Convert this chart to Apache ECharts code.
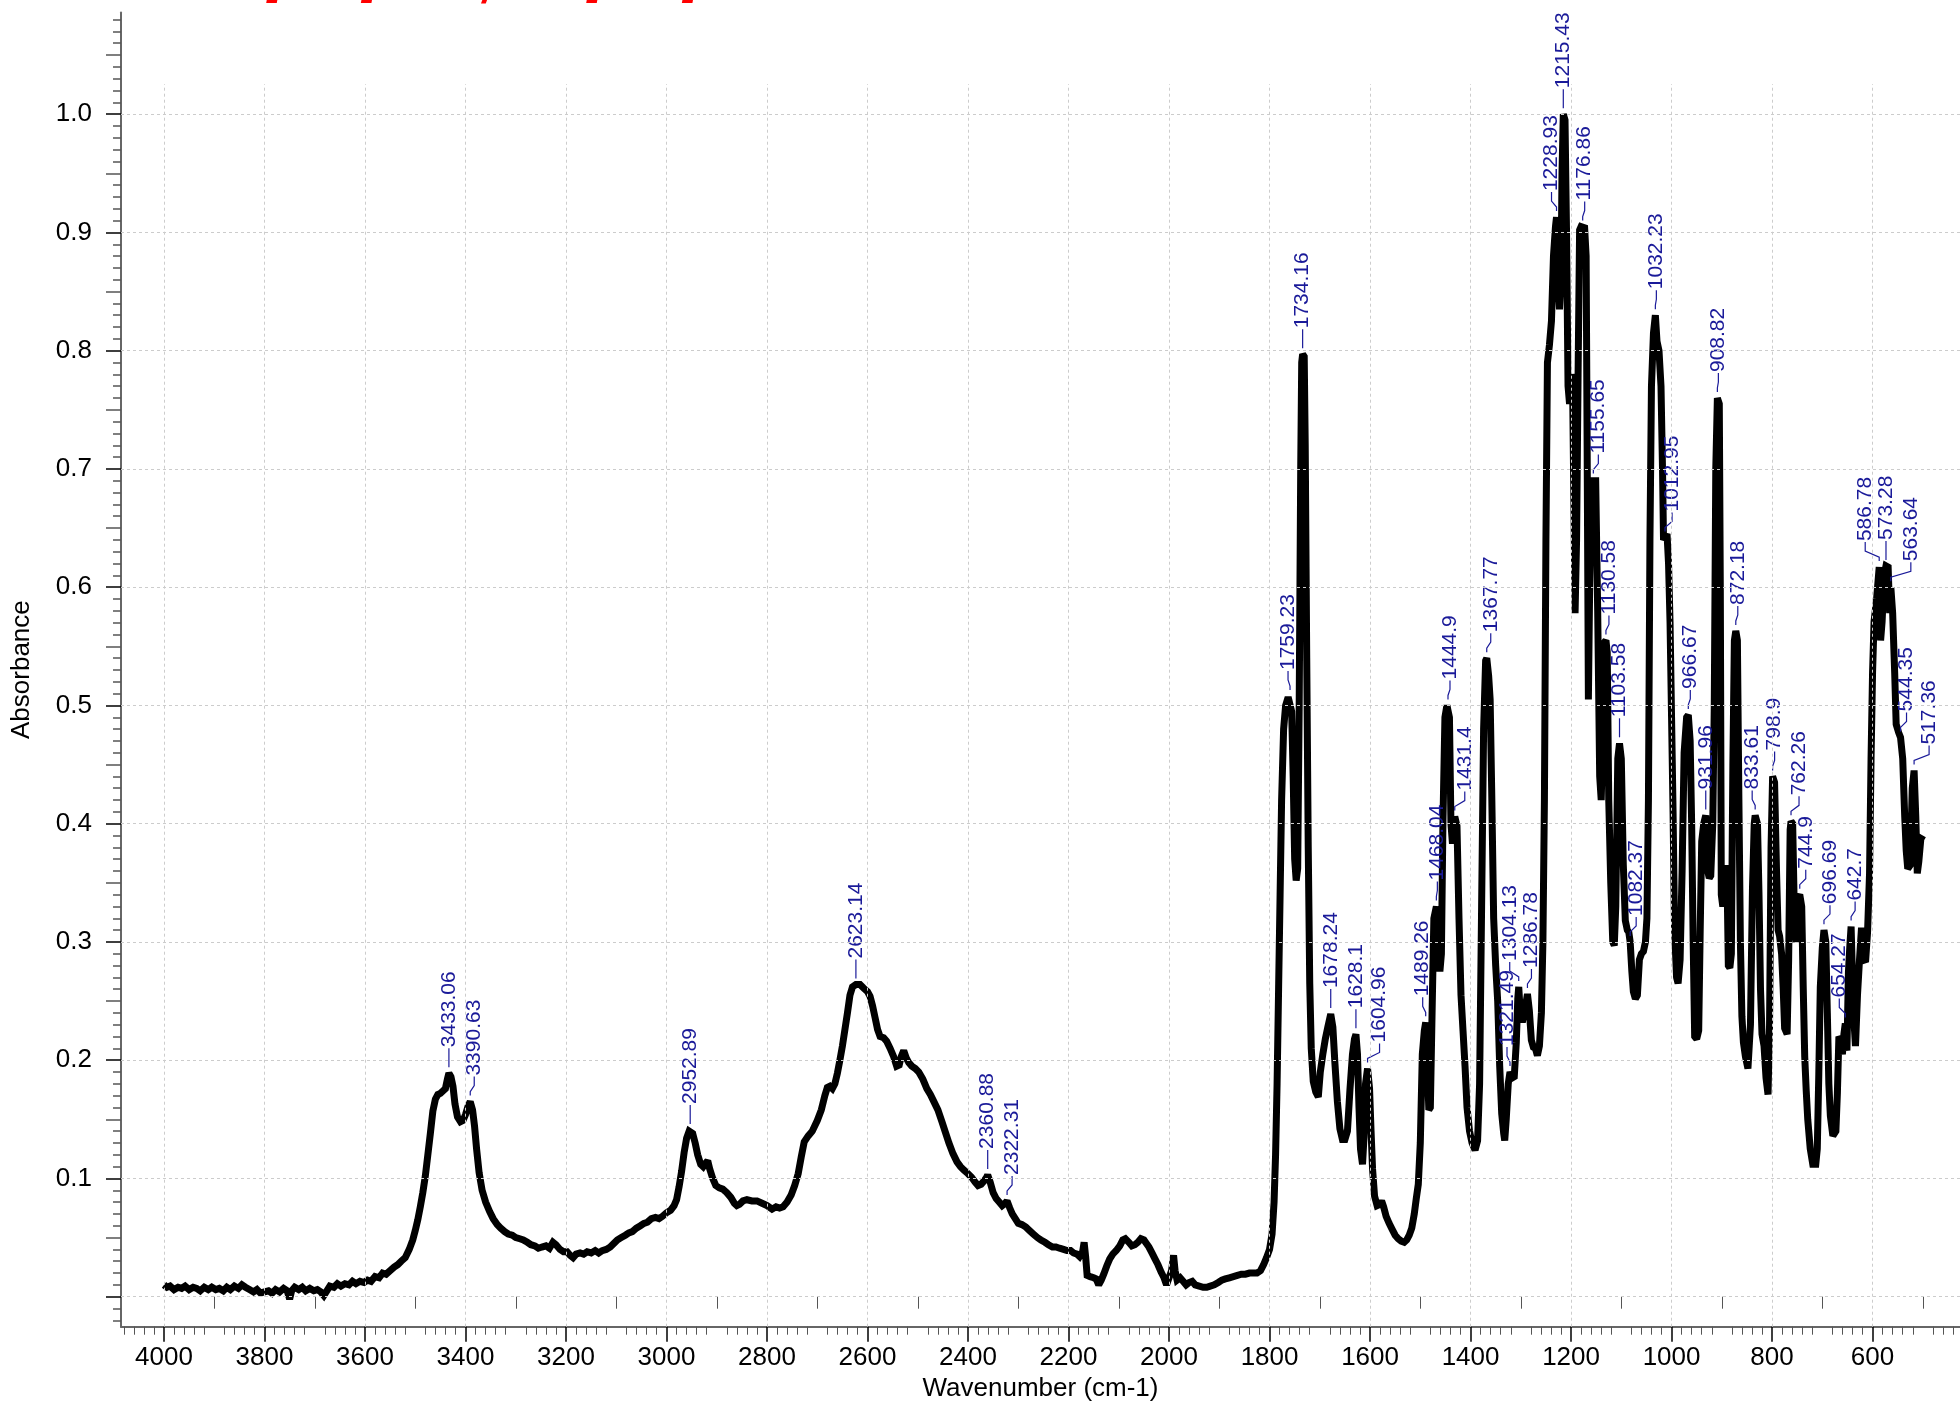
<!DOCTYPE html>
<html>
<head>
<meta charset="utf-8">
<script src="https://cdn.jsdelivr.net/npm/echarts@6/dist/echarts.min.js"></script>
<style>
html,body{margin:0;padding:0;background:#ffffff;}
#chart{width:1960px;height:1403px;}
</style>
</head>
<body>
<div id="chart"></div>
<script>
// ---------------- DATA ----------------
// FTIR spectrum: [wavenumber (cm-1), absorbance]
const spectrum = [
[4000,0.010],[3994,0.008],[3988,0.009],[3980,0.006],[3972,0.008],[3965,0.007],[3958,0.009],[3950,0.006],[3942,0.008],[3935,0.007],
[3928,0.005],[3920,0.008],[3912,0.006],[3905,0.008],[3897,0.006],[3890,0.007],[3882,0.005],[3875,0.008],[3868,0.006],[3860,0.009],
[3852,0.007],[3845,0.010],[3838,0.008],[3830,0.006],[3822,0.004],[3815,0.006],[3808,0.003],[3800,0.004],[3792,0.005],[3785,0.003],
[3778,0.006],[3770,0.004],[3762,0.007],[3755,0.005],[3750,-0.002],[3746,0.005],[3740,0.008],[3732,0.006],[3725,0.008],[3718,0.005],
[3710,0.007],[3702,0.005],[3695,0.006],[3688,0.004],[3682,0.001],[3676,0.005],[3670,0.009],[3662,0.008],[3655,0.011],[3648,0.009],
[3640,0.011],[3632,0.010],[3625,0.013],[3618,0.011],[3610,0.013],[3602,0.012],[3595,0.014],[3588,0.013],[3580,0.017],[3572,0.016],
[3565,0.020],[3558,0.019],[3550,0.022],[3542,0.025],[3535,0.027],[3528,0.030],[3520,0.033],[3512,0.040],[3505,0.048],[3500,0.056],
[3495,0.065],[3490,0.076],[3485,0.088],[3480,0.102],[3475,0.120],[3470,0.138],[3465,0.157],[3460,0.167],[3455,0.171],[3450,0.172],
[3445,0.174],[3440,0.176],[3436,0.184],[3433.06,0.189],[3429,0.186],[3425,0.178],[3421,0.163],[3416,0.152],[3410,0.148],[3405,0.149],
[3400,0.154],[3395,0.161],[3390.63,0.165],[3386,0.158],[3382,0.144],[3378,0.125],[3373,0.105],[3367,0.090],[3360,0.080],[3352,0.072],
[3345,0.066],[3337,0.061],[3330,0.058],[3322,0.055],[3315,0.053],[3307,0.052],[3300,0.050],[3292,0.049],[3285,0.048],[3277,0.046],
[3270,0.044],[3262,0.043],[3255,0.041],[3248,0.042],[3240,0.043],[3233,0.041],[3226,0.046],[3220,0.044],[3212,0.040],[3205,0.038],
[3198,0.038],[3192,0.035],[3186,0.033],[3180,0.036],[3172,0.037],[3165,0.036],[3158,0.038],[3150,0.037],[3142,0.039],[3135,0.037],
[3128,0.039],[3120,0.040],[3112,0.042],[3105,0.045],[3098,0.048],[3090,0.050],[3082,0.052],[3075,0.054],[3068,0.055],[3060,0.058],
[3052,0.060],[3045,0.062],[3038,0.063],[3030,0.066],[3022,0.067],[3015,0.066],[3008,0.068],[3000,0.071],[2992,0.073],[2985,0.077],
[2980,0.082],[2975,0.093],[2970,0.106],[2965,0.122],[2960,0.134],[2955,0.140],[2952.89,0.141],[2948,0.138],[2943,0.130],[2938,0.120],
[2932,0.112],[2927,0.110],[2922,0.113],[2918,0.115],[2914,0.108],[2908,0.100],[2902,0.094],[2895,0.092],[2888,0.091],[2880,0.088],
[2872,0.084],[2865,0.079],[2860,0.077],[2855,0.078],[2848,0.081],[2840,0.082],[2830,0.081],[2820,0.081],[2810,0.079],[2800,0.077],
[2790,0.074],[2782,0.076],[2775,0.075],[2768,0.076],[2760,0.080],[2752,0.086],[2745,0.094],[2738,0.104],[2732,0.118],[2726,0.131],
[2718,0.136],[2710,0.140],[2700,0.149],[2692,0.158],[2685,0.170],[2680,0.177],[2675,0.178],[2670,0.176],[2665,0.180],[2660,0.189],
[2655,0.200],[2650,0.212],[2645,0.226],[2640,0.240],[2635,0.255],[2630,0.262],[2623.14,0.264],[2615,0.264],[2608,0.261],[2600,0.258],
[2595,0.254],[2590,0.246],[2585,0.236],[2580,0.226],[2575,0.220],[2568,0.219],[2562,0.216],[2555,0.210],[2548,0.203],[2542,0.195],
[2537,0.196],[2533,0.203],[2528,0.208],[2523,0.202],[2518,0.198],[2512,0.195],[2505,0.193],[2498,0.190],[2490,0.184],[2482,0.176],
[2475,0.171],[2468,0.165],[2460,0.158],[2452,0.148],[2445,0.139],[2438,0.130],[2430,0.121],[2422,0.114],[2415,0.110],[2408,0.107],
[2400,0.104],[2393,0.101],[2386,0.097],[2380,0.094],[2374,0.095],[2368,0.098],[2363,0.101],[2360.88,0.103],[2356,0.097],[2350,0.088],
[2344,0.083],[2338,0.080],[2332,0.077],[2326,0.079],[2322.31,0.081],[2317,0.075],[2312,0.070],[2306,0.066],[2300,0.062],[2293,0.061],
[2285,0.059],[2278,0.056],[2270,0.053],[2262,0.050],[2255,0.048],[2247,0.046],[2240,0.044],[2232,0.042],[2225,0.042],[2218,0.041],
[2210,0.040],[2203,0.039],[2196,0.039],[2190,0.037],[2183,0.036],[2178,0.034],[2172,0.038],[2169,0.046],[2166,0.034],[2163,0.018],
[2157,0.017],[2150,0.016],[2145,0.015],[2140,0.010],[2135,0.014],[2130,0.019],[2124,0.026],[2118,0.032],[2112,0.036],[2105,0.039],
[2098,0.043],[2092,0.048],[2087,0.049],[2080,0.046],[2074,0.043],[2068,0.044],[2062,0.046],[2056,0.049],[2050,0.048],[2045,0.045],
[2040,0.042],[2034,0.037],[2028,0.032],[2022,0.027],[2016,0.021],[2010,0.016],[2005,0.010],[2000,0.016],[1995,0.022],[1991,0.035],
[1988,0.022],[1984,0.014],[1978,0.016],[1972,0.013],[1966,0.010],[1960,0.012],[1954,0.013],[1948,0.010],[1940,0.009],[1932,0.008],
[1925,0.008],[1918,0.009],[1910,0.010],[1902,0.012],[1895,0.014],[1888,0.015],[1880,0.016],[1872,0.017],[1864,0.018],[1856,0.019],
[1848,0.019],[1840,0.020],[1832,0.020],[1825,0.020],[1818,0.022],[1812,0.027],[1806,0.033],[1800,0.040],[1795,0.053],[1791,0.080],
[1788,0.120],[1785,0.180],[1782,0.260],[1779,0.340],[1776,0.420],[1772,0.480],[1768,0.500],[1763,0.507],[1759.23,0.508],[1756,0.495],
[1753,0.440],[1750,0.370],[1747,0.352],[1744,0.362],[1741,0.500],[1738,0.700],[1736,0.790],[1734.16,0.797],[1731,0.795],[1729,0.720],
[1726,0.540],[1723,0.380],[1720,0.265],[1717,0.210],[1713,0.182],[1708,0.173],[1703,0.169],[1699,0.190],[1694,0.205],[1689,0.218],
[1684,0.228],[1678.24,0.239],[1674,0.228],[1670,0.198],[1665,0.165],[1660,0.142],[1655,0.133],[1650,0.133],[1645,0.140],[1640,0.175],
[1635,0.205],[1631,0.218],[1628.1,0.222],[1625,0.205],[1622,0.160],[1619,0.125],[1615,0.112],[1612,0.135],[1609,0.180],[1604.96,0.193],
[1601,0.176],[1598,0.140],[1595,0.108],[1591,0.085],[1586,0.077],[1581,0.078],[1577,0.081],[1573,0.076],[1568,0.068],[1562,0.062],
[1556,0.057],[1550,0.052],[1544,0.049],[1538,0.047],[1532,0.046],[1527,0.048],[1522,0.052],[1517,0.058],[1512,0.070],[1508,0.083],
[1504,0.095],[1500,0.130],[1496,0.205],[1492,0.225],[1489.26,0.232],[1486,0.195],[1483,0.158],[1480,0.160],[1477,0.230],[1473,0.320],
[1468.04,0.330],[1465,0.305],[1461,0.275],[1458,0.290],[1455,0.400],[1451,0.490],[1447,0.500],[1444.9,0.500],[1442,0.490],[1439,0.400],
[1436,0.383],[1431.4,0.406],[1427,0.398],[1423,0.320],[1419,0.255],[1415,0.225],[1411,0.195],[1407,0.160],[1402,0.140],[1397,0.130],
[1391,0.124],[1386,0.132],[1382,0.180],[1378,0.330],[1374,0.480],[1370,0.538],[1367.77,0.540],[1364,0.525],[1361,0.505],[1358,0.430],
[1354,0.320],[1350,0.280],[1346,0.250],[1342,0.195],[1338,0.155],[1334,0.138],[1332,0.132],[1329,0.150],[1325,0.180],[1321.49,0.190],
[1317,0.185],[1313,0.186],[1309,0.215],[1306,0.252],[1304.13,0.262],[1301,0.240],[1297,0.232],[1293,0.240],[1289,0.250],[1286.78,0.256],
[1283,0.242],[1279,0.217],[1275,0.211],[1271,0.210],[1267,0.204],[1263,0.212],[1259,0.240],[1256,0.300],[1253,0.420],[1250,0.640],
[1247,0.790],[1243,0.805],[1239,0.825],[1235,0.880],[1231,0.905],[1228.93,0.913],[1226,0.860],[1223,0.835],[1220,0.860],[1218,0.950],
[1215.43,1.000],[1212,0.995],[1209,0.900],[1206,0.770],[1203,0.755],[1200,0.780],[1197,0.772],[1194,0.660],[1192,0.578],[1189,0.640],
[1186,0.780],[1183,0.902],[1180,0.905],[1176.86,0.905],[1173,0.904],[1170,0.880],[1168,0.720],[1165.5,0.505],[1163,0.600],[1160,0.680],
[1157,0.690],[1155.65,0.691],[1151,0.690],[1147,0.580],[1143,0.440],[1140,0.420],[1137,0.470],[1134,0.553],[1130.58,0.555],[1128,0.545],
[1125,0.420],[1121,0.350],[1117,0.300],[1114,0.297],[1111,0.330],[1107,0.455],[1103.58,0.468],[1100,0.455],[1096,0.365],[1092,0.318],
[1088,0.310],[1085,0.308],[1082.37,0.300],[1079,0.275],[1076,0.258],[1072,0.252],[1068,0.255],[1064,0.285],[1060,0.290],[1056,0.292],
[1052,0.300],[1049,0.320],[1046,0.420],[1043,0.640],[1040,0.770],[1036,0.815],[1032.23,0.830],[1029,0.808],[1025,0.800],[1021,0.770],
[1018,0.700],[1016,0.640],[1012.95,0.642],[1009,0.645],[1006,0.620],[1003,0.570],[1000,0.490],[997,0.410],[994,0.310],[990,0.270],
[987,0.265],[983,0.285],[979,0.360],[975,0.460],[970,0.490],[966.67,0.492],[963,0.470],[960,0.400],[957,0.300],[954,0.220],
[950,0.218],[946,0.225],[943,0.310],[940,0.385],[936,0.400],[931.96,0.407],[928,0.360],[925,0.354],[922,0.356],[918,0.400],
[915,0.500],[912,0.700],[908.82,0.760],[905,0.755],[903,0.600],[901,0.340],[898,0.330],[894,0.345],[890,0.365],[887,0.280],
[884,0.278],[881,0.290],[878,0.450],[875,0.555],[872.18,0.563],[869,0.555],[866,0.420],[863,0.300],[860,0.237],[857,0.215],
[853,0.203],[848,0.193],[843,0.230],[839,0.345],[835.5,0.400],[833.61,0.407],[829,0.400],[826,0.340],[823,0.260],[820,0.222],
[816,0.212],[812,0.185],[808,0.171],[805,0.230],[802,0.380],[798.9,0.440],[795,0.435],[791,0.358],[788,0.310],[785,0.305],
[781,0.290],[778,0.262],[775,0.227],[770,0.222],[767,0.285],[764,0.395],[762.26,0.402],[759,0.400],[755,0.310],[752,0.300],
[748,0.338],[744.9,0.340],[741,0.330],[738,0.262],[735,0.203],[732,0.174],[729,0.150],[724,0.125],[719,0.112],[713,0.112],
[710,0.125],[707,0.188],[704,0.262],[700,0.295],[696.69,0.310],[693,0.300],[690,0.240],[687,0.180],[684,0.153],[679,0.136],
[673,0.140],[670,0.172],[667,0.220],[664,0.218],[660,0.205],[657,0.222],[654.27,0.231],[651,0.208],[648,0.275],[645,0.298],
[642.7,0.313],[638,0.240],[634,0.212],[630,0.255],[626,0.285],[622,0.312],[618,0.285],[614,0.283],[610,0.308],[606,0.358],
[603,0.455],[600,0.528],[597,0.571],[592,0.590],[586.78,0.617],[584,0.555],[581,0.571],[577,0.610],[573.28,0.618],[569,0.617],
[566,0.578],[563.64,0.600],[560,0.578],[556,0.528],[553,0.484],[548,0.477],[544.35,0.473],[540,0.455],[536,0.406],[533,0.377],
[530,0.362],[525,0.365],[521,0.430],[517.36,0.445],[514,0.406],[511,0.358],[508,0.368],[504,0.387],[500,0.390]
];

// Labelled peak positions (cm-1)
const peakWavenumbers = [
3433.06,3390.63,2952.89,2623.14,2360.88,2322.31,1759.23,1734.16,1678.24,1628.1,1604.96,1489.26,1468.04,1444.9,1431.4,
1367.77,1321.49,1304.13,1286.78,1228.93,1215.43,1176.86,1155.65,1130.58,1103.58,1082.37,1032.23,1012.95,966.67,931.96,
908.82,872.18,833.61,798.9,762.26,744.9,696.69,654.27,642.7,586.78,573.28,563.64,544.35,517.36
];

// Axis tick labels
const xTickLabels = [4000,3800,3600,3400,3200,3000,2800,2600,2400,2200,2000,1800,1600,1400,1200,1000,800,600];
const yTickLabels = [0.1,0.2,0.3,0.4,0.5,0.6,0.7,0.8,0.9,1.0];
const xAxisTitle = 'Wavenumber (cm-1)';
const yAxisTitle = 'Absorbance';

// ---------------- LAYOUT / STYLE ----------------
const FONT = "'Liberation Sans', Arial, Helvetica, sans-serif";
const BLUE = '#1a1a99';
const GRID_COLOR = '#cccccc';
// horizontal label nudges (px) for crowded peak labels, same order as peakWavenumbers
const labelNudge = [0,4,0,0,0,5,-2,0,0,0,12,-3,1,2,10,4,-3,-9,4,-5,0,2,5,3,0,6,1,7,2,0,1,2,-3,2,8,6,6,-6,4,-14,0,20,6,15];

const X_MIN = 426, X_MAX = 4085.6;
const Y_MIN = -0.02537, Y0_MAX = 1.02554, Y1_MAX = 1.0860;
const GRID_LEFT = 121, GRID_BOTTOM = 76.3;

// tick value helpers (decoration only)
const yMajorTicks = [0].concat(yTickLabels);
const x100Ticks = [], x20Ticks = [], y05Ticks = [], y01Ticks = [];
for (let v = 400; v <= 4100; v += 100) if (v % 200 !== 0) x100Ticks.push(v);
for (let v = 420; v <= 4100; v += 20) if (v % 100 !== 0) x20Ticks.push(v);
for (let i = -2; i <= 108; i++) { if (i % 10 === 0) continue; if (i % 5 === 0) y05Ticks.push(i / 100); else y01Ticks.push(i / 100); }

const peakData = peakWavenumbers.map(w => {
  const p = spectrum.find(d => d[0] === w);
  return [w, p ? p[1] : 0];
});

const chart = echarts.init(document.getElementById('chart'), null, {renderer: 'canvas'});

function hiddenTickAxis(grid, vals, len) {
  return {
    gridIndex: grid, type: 'value', min: X_MIN, max: X_MAX, inverse: true, position: 'bottom',
    axisLine: {show: false}, axisLabel: {show: false}, splitLine: {show: false},
    axisTick: {show: true, customValues: vals, length: len, lineStyle: {color: '#555', width: 1}}
  };
}
function yTickAxis(vals, len, color) {
  return {
    gridIndex: 1, type: 'value', min: Y_MIN, max: Y1_MAX, position: 'left',
    axisLine: {show: false}, axisLabel: {show: false}, splitLine: {show: false},
    axisTick: {show: true, customValues: vals, length: len, lineStyle: {color: color, width: 1.5}}
  };
}

const option = {
  animation: false,
  backgroundColor: '#ffffff',
  grid: [
    {left: GRID_LEFT, right: 0, top: 84, bottom: GRID_BOTTOM, outerBoundsMode: 'none', containLabel: false},
    {left: GRID_LEFT, right: 0, top: 12.5, bottom: GRID_BOTTOM, outerBoundsMode: 'none', containLabel: false}
  ],
  xAxis: [
    {
      gridIndex: 0, type: 'value', min: X_MIN, max: X_MAX, inverse: true, position: 'bottom',
      axisLine: {show: true, onZero: false, lineStyle: {color: '#666', width: 2}},
      axisTick: {show: true, customValues: xTickLabels, length: 15, lineStyle: {color: '#000', width: 1.5}},
      axisLabel: {show: true, customValues: xTickLabels, fontSize: 26, fontFamily: FONT, color: '#000', margin: 18,
                  formatter: v => String(v)},
      splitLine: {show: false},
      name: xAxisTitle, nameLocation: 'middle', nameGap: 47,
      nameTextStyle: {fontSize: 26, fontFamily: FONT, color: '#000'}
    },
    hiddenTickAxis(0, x100Ticks, 12),
    hiddenTickAxis(0, x20Ticks, 8),
    {gridIndex: 1, type: 'value', min: X_MIN, max: X_MAX, inverse: true, show: false}
  ],
  yAxis: [
    {gridIndex: 0, type: 'value', min: Y_MIN, max: Y0_MAX, show: false},
    {
      gridIndex: 1, type: 'value', min: Y_MIN, max: Y1_MAX, position: 'left',
      axisLine: {show: true, onZero: false, lineStyle: {color: '#666', width: 2}},
      axisTick: {show: true, customValues: yMajorTicks, length: 15, lineStyle: {color: '#000', width: 1.5}},
      axisLabel: {show: true, customValues: yTickLabels, fontSize: 26, fontFamily: FONT, color: '#000', margin: 29,
                  formatter: v => Number(v).toFixed(1)},
      splitLine: {show: false},
      name: yAxisTitle, nameLocation: 'middle', nameGap: 86, nameRotate: 90,
      nameTextStyle: {fontSize: 26, fontFamily: FONT, color: '#000'}
    },
    yTickAxis(y05Ticks, 15, '#555'),
    yTickAxis(y01Ticks, 8, '#555')
  ],
  graphic: [
    {type: 'text', x: 274, y: -16, silent: true, style: {text: '[', font: 'italic bold 40px ' + FONT, fill: '#ff0000', align: 'center', verticalAlign: 'middle'}},
    {type: 'text', x: 371, y: -16, silent: true, style: {text: ']', font: 'italic bold 40px ' + FONT, fill: '#ff0000', align: 'center', verticalAlign: 'middle'}},
    {type: 'text', x: 488, y: -8, silent: true, style: {text: '/', font: 'italic bold 40px ' + FONT, fill: '#ff0000', align: 'center', verticalAlign: 'middle'}},
    {type: 'text', x: 594, y: -16, silent: true, style: {text: '[', font: 'italic bold 40px ' + FONT, fill: '#ff0000', align: 'center', verticalAlign: 'middle'}},
    {type: 'text', x: 692, y: -16, silent: true, style: {text: ']', font: 'italic bold 40px ' + FONT, fill: '#ff0000', align: 'center', verticalAlign: 'middle'}}
  ],
  series: [
    {
      // grid lines drawn through the axis scales
      type: 'line', name: 'grid', xAxisIndex: 0, yAxisIndex: 0, data: [], silent: true, z: 1,
      markLine: {
        silent: true, symbol: 'none', animation: false, label: {show: false},
        lineStyle: {color: GRID_COLOR, width: 1, type: [3, 3]},
        emphasis: {disabled: true},
        data: xTickLabels.map(v => ({xAxis: v})).concat(yMajorTicks.map(v => ({yAxis: v})))
      }
    },
    {
      type: 'line', name: 'Absorbance', xAxisIndex: 0, yAxisIndex: 0,
      data: spectrum, showSymbol: false, symbol: 'none', smooth: false, z: 3,
      lineStyle: {color: '#000', width: 7, join: 'miter', miterLimit: 2}
    },
    {
      type: 'custom', name: 'peaks', xAxisIndex: 0, yAxisIndex: 0, z: 4, clip: false,
      data: peakData,
      renderItem: function (params, api) {
        const w = api.value(0), a = api.value(1);
        const p = api.coord([w, a]);
        const dx = labelNudge[params.dataIndex] || 0;
        const pts = dx === 0
          ? [[p[0], p[1] - 6], [p[0], p[1] - 25]]
          : [[p[0], p[1] - 6], [p[0], p[1] - 10], [p[0] + dx, p[1] - 16], [p[0] + dx, p[1] - 25]];
        return {
          type: 'group',
          children: [
            {type: 'polyline', shape: {points: pts}, style: {stroke: BLUE, lineWidth: 1.2, fill: null}},
            {type: 'text', x: p[0] + dx, y: p[1] - 26, rotation: Math.PI / 2,
             style: {text: String(w), font: '21px ' + FONT, fill: BLUE, align: 'left', verticalAlign: 'middle'}}
          ]
        };
      }
    }
  ]
};
chart.setOption(option);
</script>
</body>
</html>
